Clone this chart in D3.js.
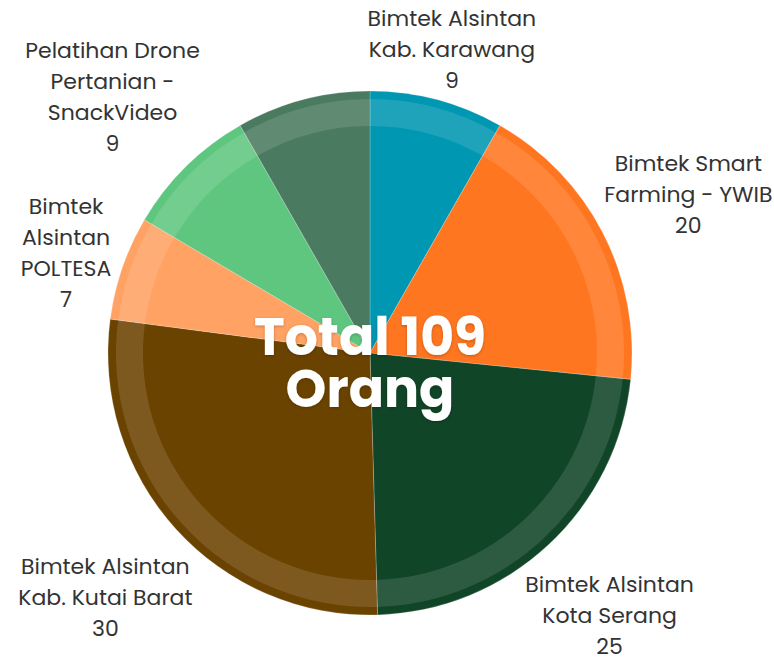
<!DOCTYPE html>
<html>
<head>
<meta charset="utf-8">
<script src="https://cdn.jsdelivr.net/npm/d3@7"></script>
<style>
  body { margin: 0; background: #fff; }
  text { font-family: Poppins, "Open Sans", sans-serif; }
</style>
</head>
<body>
<div id="chart-area"></div>
<script>
// slices, clockwise from 12 o'clock
const categories = [
    ["Bimtek Alsintan", "Kab. Karawang"],
    ["Bimtek Smart", "Farming - YWIB"],
    ["Bimtek Alsintan", "Kota Serang"],
    ["Bimtek Alsintan", "Kab. Kutai Barat"],
    ["Bimtek", "Alsintan", "POLTESA"],
    ["Pelatihan Drone", "Pertanian -", "SnackVideo"],
    []
];
const values = [9, 20, 25, 30, 7, 9, 9];
const colors = ["#0097b2", "#ff7620", "#114527", "#6b4300", "#ffa263", "#5fc67f", "#4a7a5f"];

const width = 774, height = 665;
const cx = 370, cy = 353, radius = 262;

const data = values.map((v, i) => ({ value: v, lines: categories[i], color: colors[i] }));
const total = d3.sum(values);

const svg = d3.select("#chart-area")
    .append("svg")
        .attr("width", width)
        .attr("height", height);

const defs = svg.append("defs");
const shadow = defs.append("filter").attr("id", "shadow")
    .attr("x", "-20%").attr("y", "-20%").attr("width", "140%").attr("height", "140%");
shadow.append("feDropShadow")
    .attr("dx", 0).attr("dy", 1).attr("stdDeviation", 1.5)
    .attr("flood-color", "#000").attr("flood-opacity", 0.25);

const g = svg.append("g").attr("transform", `translate(${cx},${cy})`);

const pie = d3.pie().value(d => d.value).sort(null);
const arcs = pie(data);

const arc = d3.arc().innerRadius(0).outerRadius(radius);
const band = d3.arc().innerRadius(radius - 35).outerRadius(radius - 8);

g.selectAll("path.slice")
    .data(arcs)
    .enter()
    .append("path")
        .attr("class", "slice")
        .attr("d", arc)
        .attr("fill", d => d.data.color)
        .attr("stroke", "rgba(255,255,255,0.35)")
        .attr("stroke-width", 0.6);

// lighter ring inside the rim
g.selectAll("path.band")
    .data(arcs)
    .enter()
    .append("path")
        .attr("class", "band")
        .attr("d", band)
        .attr("fill", "#fff")
        .attr("fill-opacity", 0.12);

// outside labels: centre sits on the slice's mid-angle ray, pushed out
// until the nearest corner/edge of the text box clears the rim
const fontSize = 22;
const lineGap = 31, valueGap = 31;
const offset = 0;

const labels = g.selectAll("g.label")
    .data(arcs.filter(d => d.data.lines.length))
    .enter()
    .append("g")
        .attr("class", "label");

labels.each(function(d) {
    const lab = d3.select(this);
    const rows = d.data.lines.concat([String(d.data.value)]);
    let y = 0;
    rows.forEach((t, i) => {
        if (i > 0) y += (i === rows.length - 1) ? valueGap : lineGap;
        lab.append("text")
            .attr("x", 0)
            .attr("y", y)
            .attr("text-anchor", "middle")
            .attr("font-size", fontSize)
            .attr("fill", "#333")
            .text(t);
    });
    const box = this.getBBox();
    const hw = box.width / 2, hh = box.height / 2;
    const mid = (d.startAngle + d.endAngle) / 2;
    const vx = Math.sin(mid), vy = -Math.cos(mid);
    const gap = (D) => Math.hypot(Math.max(0, Math.abs(vx) * D - hw), Math.max(0, Math.abs(vy) * D - hh));
    let lo = radius, hi = radius * 3;
    for (let k = 0; k < 40; k++) {
        const m = (lo + hi) / 2;
        if (gap(m) < radius + offset) lo = m; else hi = m;
    }
    const px = vx * lo, py = vy * lo + 5;
    const bx = box.x + hw, by = box.y + hh;
    lab.attr("transform", `translate(${px - bx},${py - by})`);
});

// centre title
const title = g.append("g").attr("filter", "url(#shadow)");
title.append("text")
    .attr("x", 0).attr("y", 2)
    .attr("text-anchor", "middle")
    .attr("font-size", 52)
    .attr("font-weight", "bold")
    .attr("fill", "#fff")
    .text(`Total ${total}`);
title.append("text")
    .attr("x", 0).attr("y", 54)
    .attr("text-anchor", "middle")
    .attr("font-size", 52)
    .attr("font-weight", "bold")
    .attr("fill", "#fff")
    .text("Orang");
</script>
</body>
</html>
